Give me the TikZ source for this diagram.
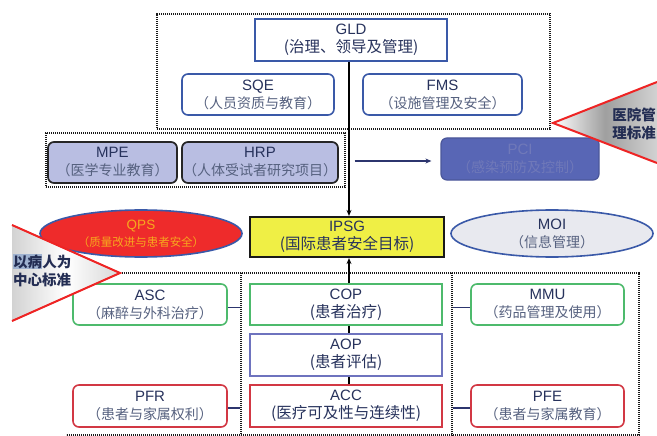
\documentclass[tikz,border=0pt]{standalone}
\usepackage{fontspec}
\setmainfont{Liberation Sans}
\newfontfamily\cjk{Noto Sans CJK SC}
\usetikzlibrary{arrows.meta,shapes.geometric}

\definecolor{navy}{HTML}{27325C}
\definecolor{subtxt}{HTML}{56617F}
\definecolor{frameblue}{HTML}{3A59A8}
\definecolor{lav}{HTML}{B9BEE2}
\definecolor{pcifill}{HTML}{5866B5}
\definecolor{pcitxt}{HTML}{7079B9}
\definecolor{qpsred}{HTML}{EE2B2B}
\definecolor{qpstxt}{HTML}{F7A81E}
\definecolor{ipsgy}{HTML}{EFEF45}
\definecolor{moigray}{HTML}{E8E9EF}
\definecolor{grn}{HTML}{4DBA6C}
\definecolor{aopblue}{HTML}{6E73BE}
\definecolor{accred}{HTML}{D23844}
\definecolor{linknavy}{HTML}{2C356E}
\definecolor{trired}{HTML}{EE2424}
\definecolor{hilite}{HTML}{9FB2D0}

% gradients for the two pointer triangles
\pgfdeclarehorizontalshading{pointerR}{100bp}{color(0bp)=(white); color(25bp)=(white); color(50bp)=(gray!75); color(75bp)=(gray!35); color(100bp)=(gray!30)}
\pgfdeclarehorizontalshading{pointerL}{100bp}{color(0bp)=(gray!35); color(25bp)=(gray!35); color(50bp)=(white); color(70bp)=(gray!25); color(100bp)=(gray!70)}

\newcommand{\cn}[1]{{\fontsize{14}{18}\selectfont\color{subtxt}\cjk #1}}
\newcommand{\cnd}[1]{{\fontsize{15.5}{18}\selectfont\color{navy}\cjk #1}}

\begin{document}
\begin{tikzpicture}[x=1pt,y=-1pt,
  lbl/.style={align=center, font=\fontsize{15}{18}\selectfont, text=navy, inner sep=0pt},
  sqbox/.style={lbl, draw, line width=1.6pt},
  rbox/.style={lbl, draw, line width=1.6pt, rounded corners=6pt},
  purplebox/.style={rbox, fill=lav, draw=black!85, line width=1.7pt},
  dotframe/.style={draw=black!90, line width=1.3pt, dash pattern=on 1.2pt off 0.8pt},
  link/.style={draw=linknavy, line width=1.8pt},
  spine/.style={draw=black, line width=1.4pt},
  arr/.style={-{Stealth[length=6pt,width=5pt]}},
  pointer/.style={draw=trired, line width=2pt, line join=miter},
  tritext/.style={align=center, inner sep=0pt, text=navy!90!black,
    font=\fontsize{14.5}{18}\selectfont\cjk\bfseries}
]
\useasboundingbox (0,0) rectangle (657,436);
\fill[white] (0,0) rectangle (657,436);

% group frames
\node[dotframe, minimum width=393, minimum height=115, inner sep=0] (govgrp) at (353.5,71.5) {};
\node[dotframe, minimum width=299, minimum height=54, inner sep=0] (edugrp) at (195.5,160) {};
\node[dotframe, minimum width=211, minimum height=162, inner sep=0] (col) at (346.5,354) {};
\draw[dotframe] (66,273) -- (639,273) -- (639,435) -- (66,435);

\coordinate (spine) at (349,0);

% governance block
\node[sqbox, draw=frameblue, line width=1.9pt, minimum width=192, minimum height=42] (GLD) at (351,40)
  {GLD\\\cnd{(治理、领导及管理)}};
\node[rbox, draw=frameblue, minimum width=152, minimum height=41] (SQE) at (258,94.5)
  {SQE\\\cn{（人员资质与教育）}};
\node[rbox, draw=frameblue, minimum width=159, minimum height=41] (FMS) at (442.5,94.5)
  {FMS\\\cn{（设施管理及安全）}};

% education / research block
\node[purplebox, minimum width=129, minimum height=41] (MPE) at (112.5,162.5)
  {MPE\\\cn{（医学专业教育）}};
\node[purplebox, minimum width=156, minimum height=41] (HRP) at (260,162.5)
  {HRP\\\cn{（人体受试者研究项目）}};
\node[rbox, fill=pcifill, draw=pcifill!85!black, line width=1.2pt, text=pcitxt,
  minimum width=158, minimum height=42] (PCI) at (520,159)
  {PCI\\{\fontsize{14}{18}\selectfont\color{pcitxt}\cjk （感染预防及控制）}};

% goals row
\node[lbl, draw=frameblue, line width=1.6pt, fill=qpsred, ellipse, minimum width=202, minimum height=47,
  text=qpstxt, font=\fontsize{13.5}{17}\selectfont] (QPS) at (141,233.5)
  {QPS\\{\fontsize{11.5}{17}\selectfont\cjk （质量改进与患者安全）}};
\node[sqbox, fill=ipsgy, draw=black!90, line width=2.2pt, minimum width=194, minimum height=40] (IPSG) at (347,237)
  {IPSG\\\cnd{(国际患者安全目标)}};
\node[lbl, draw=frameblue, line width=1.6pt, fill=moigray, ellipse, minimum width=202, minimum height=47] (MOI) at (552,233.5)
  {MOI\\\cn{（信息管理）}};

% patient-centred block
\node[rbox, draw=grn, minimum width=154, minimum height=41] (ASC) at (150,304.5)
  {ASC\\\cn{（麻醉与外科治疗）}};
\node[sqbox, draw=grn, minimum width=192, minimum height=41] (COP) at (346,304.5)
  {COP\\\cnd{(患者治疗)}};
\node[rbox, draw=grn, minimum width=153, minimum height=41] (MMU) at (547.5,304.5)
  {MMU\\\cn{（药品管理及使用）}};
\node[sqbox, draw=aopblue, minimum width=192, minimum height=42] (AOP) at (346,355)
  {AOP\\\cnd{(患者评估)}};
\node[rbox, draw=accred, minimum width=154, minimum height=42] (PFR) at (150,406)
  {PFR\\\cn{（患者与家属权利）}};
\node[sqbox, draw=accred, minimum width=192, minimum height=42] (ACC) at (346,406)
  {ACC\\\cnd{(医疗可及性与连续性)}};
\node[rbox, draw=accred, minimum width=153, minimum height=42] (PFE) at (547.5,406)
  {PFE\\\cn{（患者与家属教育）}};

% connectors
\draw[spine, arr] (GLD.south -| spine) -- (IPSG.north -| spine);
\draw[spine, arr] (COP.north -| spine) -- (IPSG.south -| spine);
\draw[spine] (COP.south -| spine) -- (AOP.north -| spine);
\draw[spine] (AOP.south -| spine) -- (ACC.north -| spine);
\draw[link, line width=1.6pt, arr] ([xshift=9pt,yshift=-1pt]edugrp.east) -- ([xshift=-9pt,yshift=-2pt]PCI.west);
\draw[link] ([yshift=-3pt]ASC.east) -- ([yshift=-3pt]ASC.east -| col.west);
\draw[link] ([yshift=-3pt]MMU.west) -- ([yshift=-3pt]MMU.west -| col.east);
\draw[link] ([yshift=-2pt]PFR.east) -- ([yshift=-2pt]PFR.east -| col.west);
\draw[link] ([yshift=-2pt]PFE.west) -- ([yshift=-2pt]PFE.west -| col.east);

% pointer triangles
\path[shading=pointerR] (553,123) -- (657,82) -- (657,163) -- cycle;
\draw[pointer] (657,82) -- (553,123) -- (657,163);
\node[tritext] (mgmt) at (634,123.5) {医院管\\理标准};

\path[shading=pointerL] (12,225) -- (120,273) -- (12,321) -- cycle;
\draw[pointer] (12,225) -- (120,273) -- (12,321);
\node[tritext] (patient) at (42,270.5) {{\setlength{\fboxsep}{0.3pt}\colorbox{hilite}{以病}}人为\\中心标准};
\end{tikzpicture}
\end{document}
